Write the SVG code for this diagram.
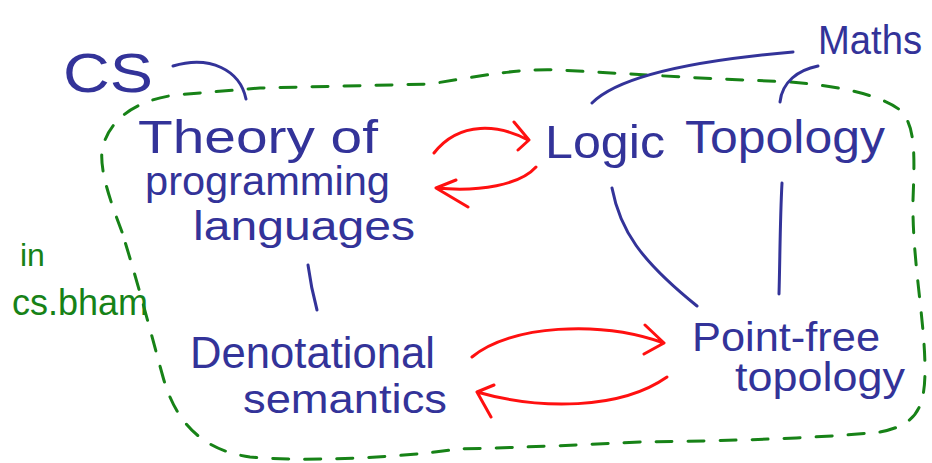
<svg xmlns="http://www.w3.org/2000/svg" width="932" height="463" viewBox="0 0 932 463">
<style>
.t{font-family:"Liberation Sans","DejaVu Sans",sans-serif;fill:#333399}
.g{font-family:"Liberation Sans","DejaVu Sans",sans-serif;fill:#178217}
.b{fill:none;stroke:#333399;stroke-width:3;stroke-linecap:round;stroke-linejoin:round}
.r{fill:none;stroke:#ff1010;stroke-width:3;stroke-linecap:round;stroke-linejoin:round}
.d{fill:none;stroke:#178217;stroke-width:3;stroke-linecap:round;stroke-dasharray:16 16}
</style>
<rect width="932" height="463" fill="#ffffff"/>
<g id="region">
<path class="d" d="M122,232 C110,200 95,160 105,140 C115,115 140,100 175,95 L260,88 L430,84 C480,76 520,68 560,70 L700,78 L790,82 C840,86 880,95 900,110 C915,125 915,150 913,200 C912,260 925,320 925,370 C925,410 915,425 880,432 C800,440 700,441 640,442 C560,446 500,448 457,449 C400,458 300,462 250,457 C200,450 175,420 163,377 C150,330 140,290 122,232 Z"/>
</g>
<g id="connectors">
<path class="b" d="M173,66 C210,55 240,70 246,99"/>
<path class="b" d="M793,52 C700,60 620,75 592,103"/>
<path class="b" d="M818,66 C798,70 782,82 780,102"/>
<path class="b" d="M612,188 C620,230 640,260 697,306"/>
<path class="b" d="M782,183 C780,220 780,260 779,294"/>
<path class="b" d="M308,265 C310,280 313,295 317,310"/>
<path class="r" d="M434,153 C460,120 500,125 528,140 M514,122 L529,140 L518,150"/>
<path class="r" d="M536,167 C520,185 480,192 436,188 M456,180 L436,188 L468,207"/>
<path class="r" d="M472,357 C510,325 600,320 664,343 M645,325 L664,343 L644,354"/>
<path class="r" d="M667,377 C620,410 540,410 477,392 M494,385 L477,392 L491,417"/>
</g>
<g id="cs"><text class="t" x="63" y="92" font-size="56" textLength="90" lengthAdjust="spacingAndGlyphs">CS</text></g>
<g id="maths"><text class="t" x="818" y="54" font-size="40" textLength="104" lengthAdjust="spacingAndGlyphs">Maths</text></g>
<g id="tpl">
<text class="t" x="138" y="153" font-size="46" textLength="240" lengthAdjust="spacingAndGlyphs">Theory of</text>
<text class="t" x="145" y="195" font-size="40" textLength="245" lengthAdjust="spacingAndGlyphs">programming</text>
<text class="t" x="193" y="240" font-size="40" textLength="222" lengthAdjust="spacingAndGlyphs">languages</text>
</g>
<g id="logic"><text class="t" x="545" y="158" font-size="46" textLength="120" lengthAdjust="spacingAndGlyphs">Logic</text></g>
<g id="topology"><text class="t" x="685" y="153" font-size="46" textLength="200" lengthAdjust="spacingAndGlyphs">Topology</text></g>
<g id="denot">
<text class="t" x="190" y="368" font-size="44" textLength="245" lengthAdjust="spacingAndGlyphs">Denotational</text>
<text class="t" x="243" y="413" font-size="40" textLength="204" lengthAdjust="spacingAndGlyphs">semantics</text>
</g>
<g id="pft">
<text class="t" x="692" y="351" font-size="40" textLength="188" lengthAdjust="spacingAndGlyphs">Point-free</text>
<text class="t" x="735" y="391" font-size="40" textLength="170" lengthAdjust="spacingAndGlyphs">topology</text>
</g>
<g id="label">
<text class="g" x="20" y="266" font-size="32">in</text>
<text class="g" x="12" y="315" font-size="36" textLength="136" lengthAdjust="spacingAndGlyphs">cs.bham</text>
</g>
</svg>
